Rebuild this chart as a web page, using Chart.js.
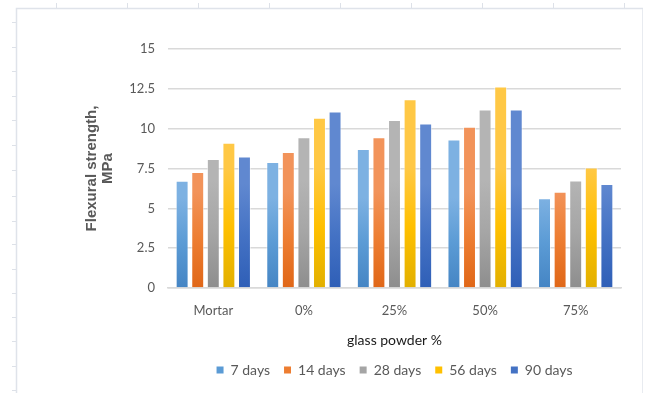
<!DOCTYPE html>
<html>
<head>
<meta charset="utf-8">
<script src="https://cdn.jsdelivr.net/npm/chart.js@4/dist/chart.umd.min.js"></script>
<style>
  html, body { margin: 0; padding: 0; background: #ffffff; }
  #wrap { width: 645px; height: 393px; position: relative; }
</style>
</head>
<body>
<div id="wrap"><canvas id="chart" width="645" height="393"></canvas></div>
<script>
// Mix categories and curing ages
const categories = ['Mortar', '0%', '25%', '50%', '75%'];
const seriesNames = ['7 days', '14 days', '28 days', '56 days', '90 days'];

// Flexural strength (MPa) per curing age
const days7  = [6.73, 7.91, 8.73, 9.32, 5.64];
const days14 = [7.28, 8.54, 9.46, 10.12, 6.04];
const days28 = [8.10, 9.46, 10.54, 11.21, 6.75];
const days56 = [9.11, 10.69, 11.84, 12.64, 7.57];
const days90 = [8.25, 11.07, 10.33, 11.21, 6.52];

const yTicks = [0, 2.5, 5, 7.5, 10, 12.5, 15];

// Office-style series colours: [top, middle, bottom] of each bar's gradient
const palette = [
  ['#7db1e2', '#5b9bd5', '#4585c4'],
  ['#f2935a', '#ed7d31', '#e06718'],
  ['#b4b4b4', '#a5a5a5', '#8e8e8e'],
  ['#ffc845', '#ffc000', '#e2b000'],
  ['#6088d0', '#4472c4', '#2f5fb7']
];

const seriesValues = [days7, days14, days28, days56, days90];

const datasets = seriesNames.map((name, i) => ({
  label: name,
  data: seriesValues[i],
  backgroundColor: palette[i][1],
  borderColor: palette[i][1],
  borderWidth: 0,
  categoryPercentage: 0.86,
  barPercentage: 0.83
}));

// Vertical gradient per bar, lighter at the top and darker at the base
const barGradient = {
  id: 'barGradient',
  beforeDatasetsDraw(chart) {
    const ctx = chart.ctx;
    chart.data.datasets.forEach((ds, di) => {
      const meta = chart.getDatasetMeta(di);
      const [top, mid, bot] = palette[di];
      meta.data.forEach(bar => {
        const y0 = Math.min(bar.y, bar.base);
        const y1 = Math.max(bar.y, bar.base);
        const g = ctx.createLinearGradient(0, y0, 0, y1);
        g.addColorStop(0, top);
        g.addColorStop(0.5, mid);
        g.addColorStop(1, bot);
        bar.options.backgroundColor = g;
        bar.options.borderColor = 'rgba(255,255,255,0.55)';
        bar.options.borderWidth = 1;
      });
    });
  }
};

// Page border with ruler marks around the chart
const pageFrame = {
  id: 'pageFrame',
  afterDraw(chart) {
    const ctx = chart.ctx;
    ctx.save();
    ctx.strokeStyle = '#dfe3ea';
    ctx.lineWidth = 1.5;
    ctx.beginPath();
    ctx.moveTo(16.5, 393); ctx.lineTo(16.5, 8.5); ctx.lineTo(643, 8.5);
    ctx.stroke();
    ctx.strokeStyle = '#e8ebf0';
    ctx.lineWidth = 1;
    ctx.beginPath();
    ctx.moveTo(642.5, 9); ctx.lineTo(642.5, 393);
    ctx.stroke();
    ctx.strokeStyle = '#dde1e8';
    ctx.beginPath();
    [56, 127, 198, 269, 340, 411, 482, 553, 624].forEach(x => {
      ctx.moveTo(x + 0.5, 3); ctx.lineTo(x + 0.5, 8);
    });
    [22, 47, 71, 96, 120, 145, 170, 196, 221, 244, 269, 293, 317, 341, 366, 390].forEach(y => {
      ctx.moveTo(12, y + 0.5); ctx.lineTo(16, y + 0.5);
    });
    ctx.stroke();
    ctx.restore();
  }
};

const labelFont = "Lato, 'Open Sans', sans-serif";

new Chart(document.getElementById('chart'), {
  type: 'bar',
  data: { labels: categories, datasets },
  plugins: [barGradient, pageFrame],
  options: {
    responsive: false,
    animation: false,
    layout: { padding: { left: 84, right: 24, top: 49, bottom: 6 } },
    plugins: {
      tooltip: { enabled: false },
      legend: {
        position: 'bottom',
        fullSize: false,
        labels: {
          boxWidth: 7,
          boxHeight: 7,
          padding: 14,
          color: '#595959',
          font: { family: labelFont, size: 14 }
        }
      }
    },
    scales: {
      x: {
        grid: { display: false, drawTicks: false },
        border: { display: true, color: '#d9d9d9', width: 1.5 },
        ticks: {
          color: '#595959',
          padding: 15,
          font: { family: labelFont, size: 13 }
        },
        title: {
          display: true,
          text: 'glass powder %',
          color: '#1a1a1a',
          padding: { top: 0, bottom: 0 },
          font: { family: labelFont, size: 14, lineHeight: 1.2 }
        },
        afterFit(scale) { scale.height = 61; }
      },
      y: {
        min: 0,
        max: 15,
        afterBuildTicks(scale) { scale.ticks = yTicks.map(v => ({ value: v })); },
        grid: { color: '#d9d9d9', lineWidth: 1.5, drawTicks: false },
        border: { display: false },
        ticks: {
          color: '#595959',
          padding: 13,
          font: { family: labelFont, size: 13 }
        },
        title: {
          display: true,
          text: ['Flexural strength,', 'MPa'],
          color: '#595959',
          padding: { top: 0, bottom: 0 },
          font: { family: "'Liberation Sans', Arial, sans-serif", size: 15, weight: 'bold', lineHeight: 1.05 }
        },
        afterFit(scale) { scale.width = 84; }
      }
    }
  }
});
</script>
</body>
</html>
